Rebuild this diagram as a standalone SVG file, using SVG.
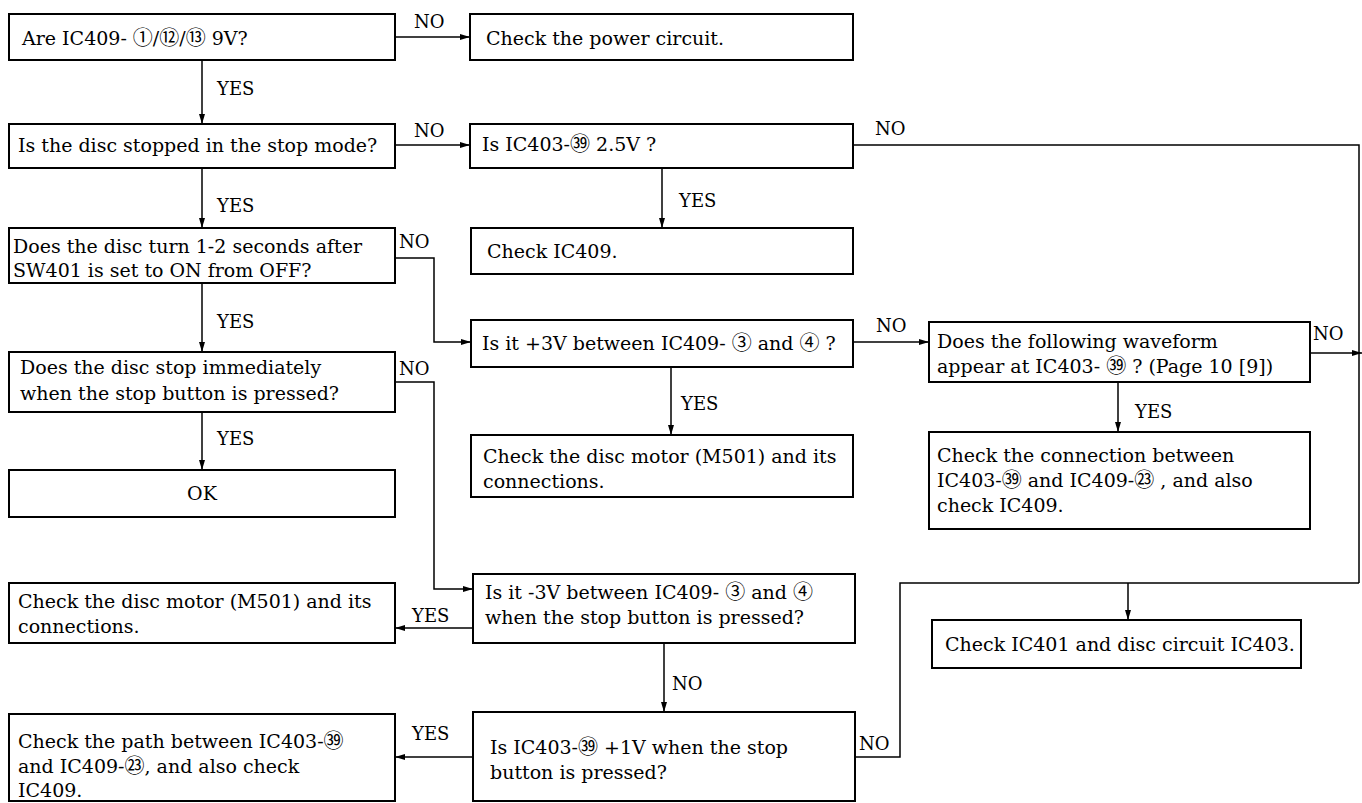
<svg xmlns="http://www.w3.org/2000/svg" width="1362" height="803" viewBox="0 0 1362 803">
<defs>
<marker id="ah" viewBox="0 0 10 6" refX="10" refY="3" markerWidth="10" markerHeight="6" markerUnits="userSpaceOnUse" orient="auto">
<path d="M0,0 L10,3 L0,6 Z" fill="#000"/>
</marker>
<style>
.box{fill:#fff;stroke:#000;stroke-width:2}
.t{font-family:"DejaVu Serif","Noto Sans CJK JP",serif;font-size:19px;fill:#000}
.n{font-family:"Noto Sans CJK JP","DejaVu Sans",sans-serif;font-size:20px}
.lb{font-family:"DejaVu Serif","Noto Sans CJK JP",serif;font-size:18px;fill:#000}
.c{fill:none;stroke:#000;stroke-width:1.5}
.a{marker-end:url(#ah)}
</style>
</defs>
<rect width="1362" height="803" fill="#fff"/>
<g id="connectors">
<path class="c a" d="M395,37 H470"/>
<path class="c a" d="M202,60 V124"/>
<path class="c a" d="M395,145 H470"/>
<path class="c" d="M853,145 H1359 V583"/>
<path class="c a" d="M662,168 V228"/>
<path class="c a" d="M202,168 V228"/>
<path class="c a" d="M395,258 H434 V342 H471"/>
<path class="c a" d="M202,283 V352"/>
<path class="c a" d="M395,382 H434 V589 H473"/>
<path class="c a" d="M202,412 V470"/>
<path class="c a" d="M671,367 V435"/>
<path class="c a" d="M853,342 H929"/>
<path class="c a" d="M1310,353 H1362"/>
<path class="c a" d="M1118,382 V432"/>
<path class="c a" d="M473,628 H395"/>
<path class="c a" d="M664,643 V712"/>
<path class="c" d="M855,757 H900 V583 H1359"/>
<path class="c a" d="M1128,583 V620"/>
<path class="c a" d="M473,757 H395"/>
<text class="lb" x="414" y="28">NO</text>
<text class="lb" x="217" y="95">YES</text>
<text class="lb" x="414" y="137">NO</text>
<text class="lb" x="875" y="135">NO</text>
<text class="lb" x="679" y="207">YES</text>
<text class="lb" x="217" y="212">YES</text>
<text class="lb" x="399" y="248">NO</text>
<text class="lb" x="217" y="328">YES</text>
<text class="lb" x="399" y="375">NO</text>
<text class="lb" x="217" y="445">YES</text>
<text class="lb" x="681" y="410">YES</text>
<text class="lb" x="876" y="332">NO</text>
<text class="lb" x="1313" y="340">NO</text>
<text class="lb" x="1135" y="418">YES</text>
<text class="lb" x="412" y="622">YES</text>
<text class="lb" x="672" y="690">NO</text>
<text class="lb" x="859" y="750">NO</text>
<text class="lb" x="412" y="740">YES</text>
</g>
<g id="n1"><rect class="box" x="9" y="14" width="386" height="46"/><text class="t" x="22" y="45">Are IC409- <tspan class="n">①</tspan>/<tspan class="n">⑫</tspan>/<tspan class="n">⑬</tspan> 9V?</text></g>
<g id="n2"><rect class="box" x="470" y="14" width="383" height="46"/><text class="t" x="486" y="45">Check the power circuit.</text></g>
<g id="n3"><rect class="box" x="9" y="124" width="386" height="44"/><text class="t" x="18" y="152">Is the disc stopped in the stop mode?</text></g>
<g id="n4"><rect class="box" x="470" y="124" width="383" height="44"/><text class="t" x="482" y="151">Is IC403-<tspan class="n">㊴</tspan> 2.5V ?</text></g>
<g id="n5"><rect class="box" x="471" y="228" width="382" height="46"/><text class="t" x="487" y="258">Check IC409.</text></g>
<g id="n6"><rect class="box" x="9" y="228" width="386" height="55"/><text class="t" x="13" y="253">Does the disc turn 1-2 seconds after</text><text class="t" x="13" y="277">SW401 is set to ON from OFF?</text></g>
<g id="n7"><rect class="box" x="471" y="320" width="382" height="47"/><text class="t" x="482" y="350">Is it +3V between IC409- <tspan class="n">③</tspan> and <tspan class="n">④</tspan> ?</text></g>
<g id="n8"><rect class="box" x="929" y="322" width="381" height="60"/><text class="t" x="937" y="348">Does the following waveform</text><text class="t" x="937" y="373">appear at IC403- <tspan class="n">㊴</tspan> ? (Page 10 [9])</text></g>
<g id="n9"><rect class="box" x="929" y="432" width="381" height="97"/><text class="t" x="937" y="462">Check the connection between</text><text class="t" x="937" y="487">IC403-<tspan class="n">㊴</tspan> and IC409-<tspan class="n">㉓</tspan> , and also</text><text class="t" x="937" y="512">check IC409.</text></g>
<g id="n10"><rect class="box" x="9" y="352" width="386" height="60"/><text class="t" x="20" y="374">Does the disc stop immediately</text><text class="t" x="20" y="400">when the stop button is pressed?</text></g>
<g id="n11"><rect class="box" x="9" y="470" width="386" height="47"/><text class="t" x="202" y="500" text-anchor="middle">OK</text></g>
<g id="n12"><rect class="box" x="471" y="435" width="382" height="62"/><text class="t" x="483" y="463">Check the disc motor (M501) and its</text><text class="t" x="483" y="488">connections.</text></g>
<g id="n13"><rect class="box" x="473" y="574" width="382" height="69"/><text class="t" x="485" y="599">Is it -3V between IC409- <tspan class="n">③</tspan> and <tspan class="n">④</tspan></text><text class="t" x="485" y="624">when the stop button is pressed?</text></g>
<g id="n14"><rect class="box" x="9" y="583" width="386" height="60"/><text class="t" x="18" y="608">Check the disc motor (M501) and its</text><text class="t" x="18" y="633">connections.</text></g>
<g id="n15"><rect class="box" x="473" y="712" width="382" height="89"/><text class="t" x="490" y="754">Is IC403-<tspan class="n">㊴</tspan> +1V when the stop</text><text class="t" x="490" y="779">button is pressed?</text></g>
<g id="n16"><rect class="box" x="9" y="714" width="386" height="87"/><text class="t" x="18" y="748">Check the path between IC403-<tspan class="n">㊴</tspan></text><text class="t" x="18" y="773">and IC409-<tspan class="n">㉓</tspan>, and also check</text><text class="t" x="18" y="797">IC409.</text></g>
<g id="n17"><rect class="box" x="932" y="620" width="369" height="48"/><text class="t" x="945" y="651">Check IC401 and disc circuit IC403.</text></g>
</svg>
